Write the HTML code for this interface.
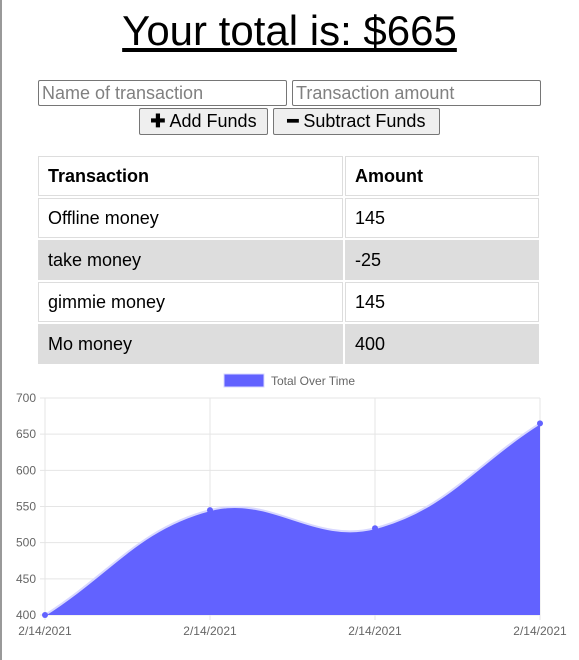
<!DOCTYPE html>
<html><head><meta charset="utf-8"><style>
body{margin:0;width:579px;height:660px;background:#fff;font-family:"Liberation Sans",Arial,sans-serif;position:relative;overflow:hidden}
.lb{position:absolute;left:0;top:0;width:2px;height:660px;background:#999}
h1{position:absolute;top:6px;left:0;width:579px;text-align:center;margin:0;font-weight:normal;font-size:42px;text-decoration:underline;line-height:50px}
input{position:absolute;top:80px;height:26px;width:249px;box-sizing:border-box;border:1px solid #767676;font-size:18px;font-family:inherit;padding:0 3px;border-radius:2px}
input::placeholder{color:#808080}
button{position:absolute;top:108px;height:27px;box-sizing:border-box;border:1px solid #767676;background:#efefef;font-size:18px;font-family:inherit;padding:0 6px;border-radius:2px;white-space:nowrap}
table{position:absolute;left:36px;top:154px;width:505px;border-spacing:2px;font-size:18px}
td,th{border:1px solid #ddd;height:38px;padding:0 9px;text-align:left}
th{font-weight:bold}
tr.g td{background:#ddd}
</style></head><body>
<div class="lb"></div>
<h1>Your total is: $665</h1>
<input style="left:38px" placeholder="Name of transaction">
<input style="left:292px" placeholder="Transaction amount">
<button style="left:139px;width:129px"><b>✚</b> Add Funds</button>
<button style="left:273px;width:167px"><b>━</b> Subtract Funds</button>
<table>
<tr><th style="width:285px">Transaction</th><th>Amount</th></tr>
<tr><td>Offline money</td><td>145</td></tr>
<tr class="g"><td>take money</td><td>-25</td></tr>
<tr><td>gimmie money</td><td>145</td></tr>
<tr class="g"><td>Mo money</td><td>400</td></tr>
</table>
<svg id="c" width="579" height="290" style="position:absolute;left:0;top:370px"></svg>
<script>
const labels=["2/14/2021","2/14/2021","2/14/2021","2/14/2021"];
const values=[400,545,520,665];
const yTicks=[400,450,500,550,600,650,700];
const svg=document.getElementById('c');
const NS='http://www.w3.org/2000/svg';
const X0=45,X1=540,Y0=245,Y1=28,ymin=400,ymax=700;
const xs=i=>X0+(X1-X0)*i/(values.length-1);
const ys=v=>Y0-(v-ymin)/(ymax-ymin)*(Y0-Y1);
function el(t,a,p){const e=document.createElementNS(NS,t);for(const k in a)e.setAttribute(k,a[k]);(p||svg).appendChild(e);return e;}
yTicks.forEach(t=>{const y=ys(t);
const l=el('line',{x1:X0-5,x2:X1,y1:y,y2:y,stroke:'#e5e5e5'});

const tx=el('text',{x:X0-9,y:y+4,'text-anchor':'end','font-size':12,fill:'#666','font-family':'Liberation Sans'});tx.textContent=t;
});
labels.forEach((lb,i)=>{const x=xs(i);
const l=el('line',{x1:x,x2:x,y1:Y1,y2:Y0+5,stroke:'#e5e5e5'});

const tx=el('text',{x:x,y:Y0+20,'text-anchor':'middle','font-size':12,fill:'#666','font-family':'Liberation Sans'});tx.textContent=lb;
});
const pts=values.map((v,i)=>({x:xs(i),y:ys(v)}));
const T=0.4;
const cps=pts.map((p,i)=>{const a=pts[i-1]||p,c=pts[i+1]||p;
const d01=Math.hypot(p.x-a.x,p.y-a.y),d12=Math.hypot(c.x-p.x,c.y-p.y);
let fa=d01/(d01+d12)||0,fb=d12/(d01+d12)||0;fa*=T;fb*=T;
return{px:p.x-fa*(c.x-a.x),py:p.y-fa*(c.y-a.y),nx:p.x+fb*(c.x-a.x),ny:p.y+fb*(c.y-a.y)};});
let d=`M${pts[0].x},${pts[0].y}`;
for(let i=1;i<pts.length;i++)d+=` C${cps[i-1].nx},${cps[i-1].ny} ${cps[i].px},${cps[i].py} ${pts[i].x},${pts[i].y}`;
const area=el('path',{d:d+` L${X1},${Y0} L${X0},${Y0} Z`,fill:'#6262ff'});

const ln=el('path',{d:d,fill:'none',stroke:'#d8d8ff','stroke-width':2});

pts.forEach(p=>{const c=el('circle',{cx:p.x,cy:p.y,r:3,fill:'#6262ff'});
});
const lg=el('rect',{x:224,y:4,width:40,height:13,fill:'#6262ff',stroke:'#d8d8ff'});

const lt=el('text',{x:271,y:15,'font-size':12,fill:'#666','font-family':'Liberation Sans'});lt.textContent='Total Over Time';

</script>
</body></html>
